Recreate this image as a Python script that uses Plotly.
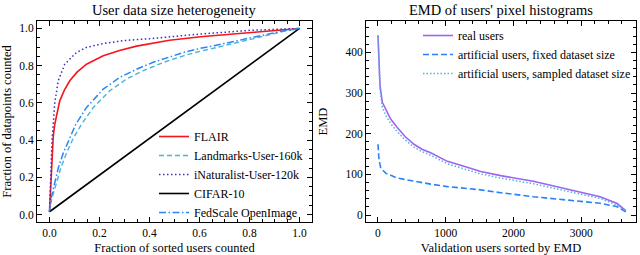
import plotly.graph_objects as go

# ---------------- Left panel data ----------------
flair_x = [0, 0.002, 0.004, 0.008, 0.015, 0.021, 0.03, 0.041, 0.06, 0.081, 0.11, 0.148, 0.215, 0.28, 0.348, 0.404, 0.48, 0.604, 0.804, 1.0]
flair_y = [0.015, 0.07, 0.12, 0.30, 0.42, 0.485, 0.55, 0.611, 0.67, 0.719, 0.765, 0.808, 0.853, 0.882, 0.905, 0.918, 0.937, 0.955, 0.978, 1.0]

landmarks_x = [0, 0.008, 0.028, 0.045, 0.068, 0.095, 0.128, 0.175, 0.241, 0.308, 0.375, 0.455, 0.536, 0.6, 0.67, 0.74, 0.804, 0.87, 0.936, 1.0]
landmarks_y = [0.015, 0.08, 0.17, 0.25, 0.33, 0.41, 0.485, 0.575, 0.665, 0.728, 0.773, 0.817, 0.853, 0.877, 0.898, 0.92, 0.943, 0.964, 0.984, 1.0]

inat_x = [0, 0.002, 0.005, 0.01, 0.015, 0.021, 0.035, 0.061, 0.108, 0.148, 0.215, 0.3, 0.4, 0.5, 0.604, 0.804, 1.0]
inat_y = [0.015, 0.1, 0.25, 0.40, 0.485, 0.6, 0.719, 0.808, 0.871, 0.898, 0.919, 0.935, 0.945, 0.958, 0.97, 0.99, 1.0]

cifar_x = [0, 1.0]
cifar_y = [0.015, 1.0]

fedscale_x = [0, 0.005, 0.021, 0.035, 0.055, 0.08, 0.105, 0.148, 0.215, 0.281, 0.348, 0.415, 0.481, 0.536, 0.6, 0.67, 0.74, 0.804, 0.87, 0.936, 1.0]
fedscale_y = [0.015, 0.08, 0.17, 0.25, 0.33, 0.41, 0.485, 0.575, 0.674, 0.737, 0.781, 0.818, 0.848, 0.871, 0.892, 0.91, 0.93, 0.95, 0.968, 0.987, 1.0]

# ---------------- Right panel data ----------------
real_x = [0, 15, 30, 64, 113, 187, 285, 400, 532, 650, 778, 1024, 1270, 1517, 1812, 2294, 2787, 3279, 3525, 3600, 3660]
real_y = [442, 360, 318, 277, 260, 236, 215, 193, 174, 162, 153, 132, 120, 107, 97, 83, 64, 45, 29, 20, 11]

fixed_x = [0, 15, 40, 113, 285, 532, 778, 1024, 1270, 1517, 1812, 2294, 2787, 3279, 3525, 3600, 3660]
fixed_y = [174, 136, 116, 103, 91, 83, 76, 70, 66, 62, 55, 45, 37, 29, 21, 14, 8]

sampled_x = real_x
sampled_y = [440, 355, 310, 265, 245, 225, 205, 185, 167, 156, 147, 126, 114, 101, 91, 77, 59, 41, 25, 17, 10]

FONT = "Liberation Serif"
W, H = 640, 255

def px_x(a, b):
    return [a / W, b / W]

def px_y(top, bottom):
    return [(H - bottom) / H, (H - top) / H]

fig = go.Figure()

# left traces
fig.add_trace(go.Scatter(x=flair_x, y=flair_y, mode="lines", name="FLAIR",
                         line=dict(color="#f5161e", width=1.6), xaxis="x", yaxis="y", legend="legend"))
fig.add_trace(go.Scatter(x=landmarks_x, y=landmarks_y, mode="lines", name="Landmarks-User-160k",
                         line=dict(color="#4ab4d4", width=1.4, dash="5px,3px"), xaxis="x", yaxis="y", legend="legend"))
fig.add_trace(go.Scatter(x=inat_x, y=inat_y, mode="lines", name="iNaturalist-User-120k",
                         line=dict(color="#3a2cc0", width=1.5, dash="1.5px,2.5px"), xaxis="x", yaxis="y", legend="legend"))
fig.add_trace(go.Scatter(x=cifar_x, y=cifar_y, mode="lines", name="CIFAR-10",
                         line=dict(color="#000000", width=1.6), xaxis="x", yaxis="y", legend="legend"))
fig.add_trace(go.Scatter(x=fedscale_x, y=fedscale_y, mode="lines", name="FedScale OpenImage",
                         line=dict(color="#2a86f5", width=1.5, dash="7px,2.5px,1.5px,2.5px"), xaxis="x", yaxis="y", legend="legend"))

# right traces
fig.add_trace(go.Scatter(x=real_x, y=real_y, mode="lines", name="real users",
                         line=dict(color="#a062f2", width=1.6), xaxis="x2", yaxis="y2", legend="legend2"))
fig.add_trace(go.Scatter(x=fixed_x, y=fixed_y, mode="lines", name="artificial users, fixed dataset size",
                         line=dict(color="#2a82f8", width=1.6, dash="6px,3px"), xaxis="x2", yaxis="y2", legend="legend2"))
fig.add_trace(go.Scatter(x=sampled_x, y=sampled_y, mode="lines", name="artificial users, sampled dataset size",
                         line=dict(color="#4db6da", width=1.5, dash="1.5px,2px"), xaxis="x2", yaxis="y2", legend="legend2"))

axis_common = dict(
    showline=True, linecolor="black", linewidth=1, mirror="allticks",
    ticks="inside", ticklen=5, tickwidth=1, tickcolor="black",
    showgrid=False, zeroline=False, automargin=False,
    tickfont=dict(family=FONT, size=11.5, color="black"),
)
TITLE_FONT = dict(family=FONT, size=12.5, color="black")

fig.update_layout(
    width=W, height=H,
    margin=dict(l=0, r=0, t=0, b=0),
    paper_bgcolor="white", plot_bgcolor="white",
    font=dict(family=FONT, color="black"),
    xaxis=dict(domain=px_x(37, 312), range=[-0.05, 1.05], anchor="y",
               tickvals=[0, 0.2, 0.4, 0.6, 0.8, 1.0], tickformat=".1f",
               minor=dict(dtick=0.05, tick0=0, ticks="inside", ticklen=3, tickcolor="black"),
               title=dict(text="Fraction of sorted users counted", font=TITLE_FONT),
               **axis_common),
    yaxis=dict(domain=px_y(21, 222), range=[-0.04, 1.04], anchor="x",
               tickvals=[0, 0.2, 0.4, 0.6, 0.8, 1.0], tickformat=".1f",
               minor=dict(dtick=0.05, tick0=0, ticks="inside", ticklen=3, tickcolor="black"),
               title=dict(text="Fraction of datapoints counted", font=TITLE_FONT),
               **axis_common),
    xaxis2=dict(domain=px_x(366, 636), range=[-177, 3810], anchor="y2",
                tickvals=[0, 1000, 2000, 3000],
                minor=dict(dtick=200, tick0=0, ticks="inside", ticklen=3, tickcolor="black"),
                title=dict(text="Validation users sorted by EMD", font=TITLE_FONT),
                **axis_common),
    yaxis2=dict(domain=px_y(21, 222), range=[-17, 477], anchor="x2",
                tickvals=[0, 100, 200, 300, 400],
                minor=dict(dtick=20, tick0=0, ticks="inside", ticklen=3, tickcolor="black"),
                title=dict(text="EMD", font=TITLE_FONT),
                **axis_common),
    legend=dict(x=154 / W, y=(H - 122) / H, xanchor="left", yanchor="top",
                bgcolor="rgba(0,0,0,0)", font=dict(family=FONT, size=12),
                itemwidth=30, tracegroupgap=0),
    legend2=dict(x=418 / W, y=(H - 21) / H, xanchor="left", yanchor="top",
                 bgcolor="rgba(0,0,0,0)", font=dict(family=FONT, size=12),
                 itemwidth=30, tracegroupgap=0),
    showlegend=True,
    annotations=[
        dict(text="User data size heterogeneity", x=174 / W, y=(H - 10) / H, xref="paper", yref="paper",
             showarrow=False, font=dict(family=FONT, size=14.5), xanchor="center", yanchor="middle"),
        dict(text="EMD of users' pixel histograms", x=501 / W, y=(H - 10) / H, xref="paper", yref="paper",
             showarrow=False, font=dict(family=FONT, size=14.5), xanchor="center", yanchor="middle"),
    ],
)

fig.write_html("out.html", config={"displayModeBar": False},
               post_script="document.body.style.margin='0';document.body.style.padding='0';document.body.style.overflow='hidden';")
